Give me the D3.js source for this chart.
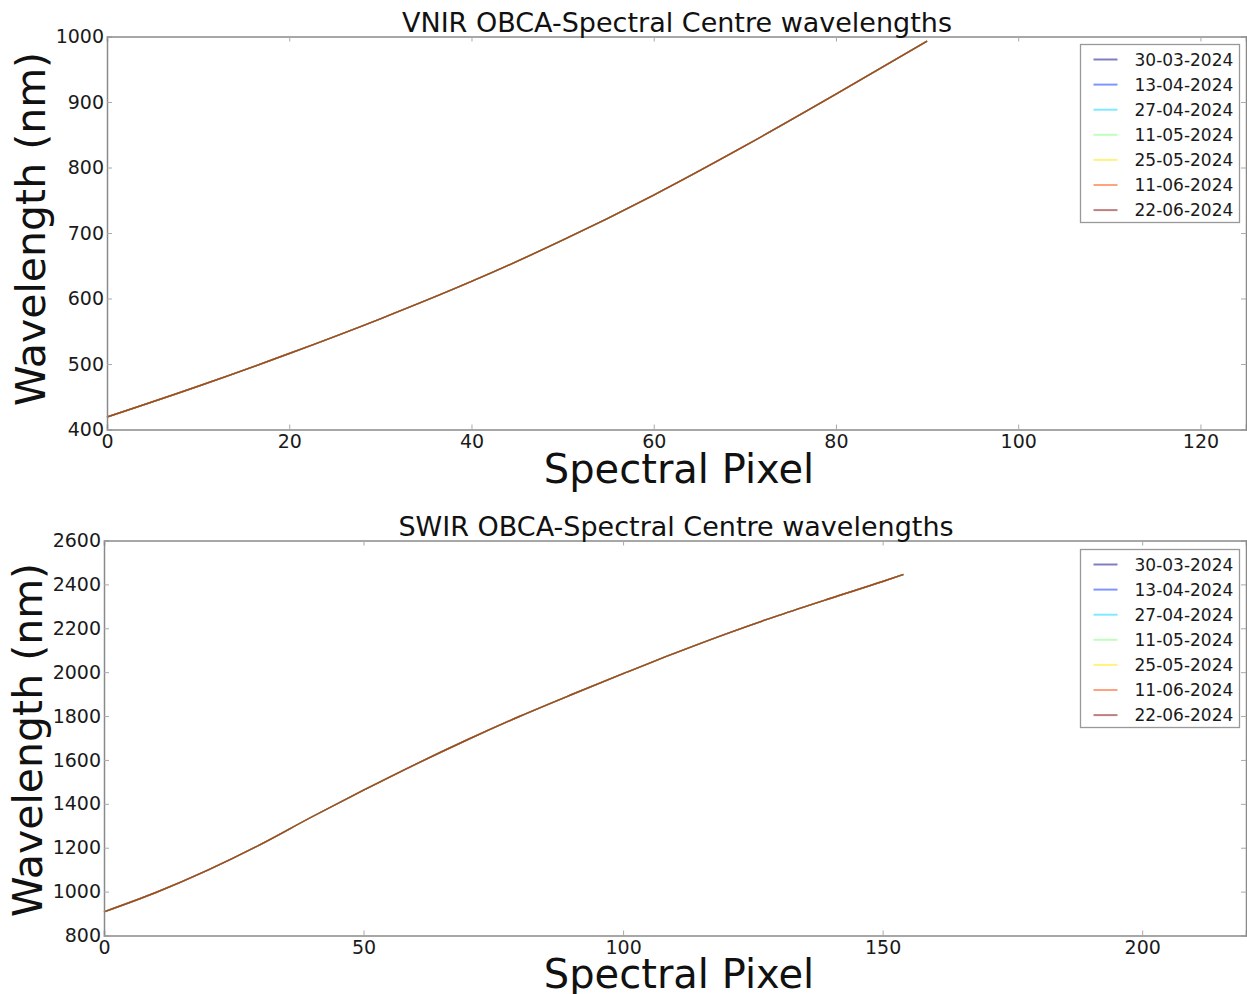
<!DOCTYPE html>
<html><head><meta charset="utf-8">
<script src="https://cdn.jsdelivr.net/npm/d3@7"></script>
<style>
html,body{margin:0;padding:0;background:#fff;}
svg{display:block;font-family:"DejaVu Sans",sans-serif;}
</style></head>
<body><svg id="chart" width="1247" height="994"></svg>
<script>
// ---- data ----
const dates = ["30-03-2024","13-04-2024","27-04-2024","11-05-2024","25-05-2024","11-06-2024","22-06-2024"];
const colors = ["#000080","#002bff","#00d4ff","#7dff7a","#ffe600","#ff4800","#800000"];

const vnirPixels = [0,10,20,30,40,50,60,70,80,90];
const vnirWavelengths = [419,466,516,569,626,689,758,833,912,993];

const swirPixels = [0,10,20,30,40,50,60,70,80,90,100,110,120,130,140,150,154];
const swirWavelengths = [908,996,1098,1213,1340,1462,1580,1692,1798,1897,1993,2087,2176,2259,2337,2413,2445];

const vnirXTicks = [0,20,40,60,80,100,120];
const vnirYTicks = [400,500,600,700,800,900,1000];
const swirXTicks = [0,50,100,150,200];
const swirYTicks = [800,1000,1200,1400,1600,1800,2000,2200,2400,2600];

// ---- drawing ----
const svg = d3.select("#chart");

function panel(cfg){
  const g = svg.append("g");
  const x = d3.scaleLinear().domain(cfg.xDomain).range([cfg.left, cfg.right]);
  const y = d3.scaleLinear().domain(cfg.yDomain).range([cfg.bottom, cfg.top]);

  // series (all dates overlap)
  const line = d3.line().x((d,i)=>x(cfg.px[i])).y(d=>y(d)).curve(d3.curveMonotoneX);
  dates.forEach((dt,k)=>{
    g.append("path").attr("d", line(cfg.wl))
      .attr("fill","none").attr("stroke",colors[k]).attr("stroke-opacity",0.5)
      .attr("stroke-width",1.4);
  });

  // axes with inward ticks
  const tl = 5;
  const axB = d3.axisBottom(x).tickValues(cfg.xTicks).tickSize(-tl).tickFormat(d3.format("d"));
  const axT = d3.axisTop(x).tickValues(cfg.xTicks).tickSize(-tl).tickFormat("");
  const axL = d3.axisLeft(y).tickValues(cfg.yTicks).tickSize(-tl).tickPadding(3).tickFormat(d3.format("d"));
  const axR = d3.axisRight(y).tickValues(cfg.yTicks).tickSize(-tl).tickFormat("");
  const gb = g.append("g").attr("transform",`translate(0,${cfg.bottom})`).call(axB);
  const gt = g.append("g").attr("transform",`translate(0,${cfg.top})`).call(axT);
  const gl = g.append("g").attr("transform",`translate(${cfg.left},0)`).call(axL);
  const gr = g.append("g").attr("transform",`translate(${cfg.right},0)`).call(axR);
  [gb,gt,gl,gr].forEach(a=>{
    a.select(".domain").attr("stroke","#8a8a8a").attr("stroke-width",1.5);
    a.selectAll(".tick line").attr("stroke","#aaa").attr("stroke-width",1);
    a.selectAll("text").attr("font-size",19).attr("fill","#1a1a1a").attr("font-family","DejaVu Sans");
  });
  gb.selectAll("text").attr("dy","0").attr("y",18.5);

  // title
  g.append("text").attr("x",cfg.titleX).attr("y",cfg.titleY).attr("text-anchor","middle")
    .attr("font-size",27).attr("fill","#111").text(cfg.title);
  // x label
  g.append("text").attr("x",cfg.xLabelX).attr("y",cfg.xLabelY).attr("text-anchor","middle")
    .attr("font-size",40).attr("fill","#111").text("Spectral Pixel");
  // y label
  g.append("text").attr("transform",`translate(${cfg.yLabelX},${cfg.yLabelY}) rotate(-90)`)
    .attr("text-anchor","middle").attr("font-size",41).attr("fill","#111").text("Wavelength (nm)");

  // legend
  const lg = g.append("g").attr("transform",`translate(${cfg.legX},${cfg.legY})`);
  lg.append("rect").attr("x",0).attr("y",0).attr("width",159).attr("height",178)
    .attr("fill","#fff").attr("stroke","#999").attr("stroke-width",1.3);
  dates.forEach((dt,k)=>{
    const yy = 15 + k*25.1;
    lg.append("line").attr("x1",13).attr("x2",37).attr("y1",yy).attr("y2",yy)
      .attr("stroke",colors[k]).attr("stroke-opacity",0.5).attr("stroke-width",2);
    lg.append("text").attr("x",54).attr("y",yy+6).attr("font-size",17).attr("fill","#1a1a1a").text(dt);
  });
}

panel({
  xDomain:[0,125], yDomain:[400,1000], left:107, right:1246, top:36.5, bottom:429.5,
  px:vnirPixels, wl:vnirWavelengths, xTicks:vnirXTicks, yTicks:vnirYTicks,
  title:"VNIR OBCA-Spectral Centre wavelengths", titleX:677, titleY:32,
  xLabelX:679, xLabelY:483, yLabelX:45, yLabelY:229, legX:1080.5, legY:44.5
});
panel({
  xDomain:[0,220], yDomain:[800,2600], left:104, right:1246, top:540.5, bottom:935.5,
  px:swirPixels, wl:swirWavelengths, xTicks:swirXTicks, yTicks:swirYTicks,
  title:"SWIR OBCA-Spectral Centre wavelengths", titleX:676, titleY:536,
  xLabelX:679, xLabelY:988, yLabelX:42, yLabelY:740, legX:1080.5, legY:549.5
});
</script></body></html>
